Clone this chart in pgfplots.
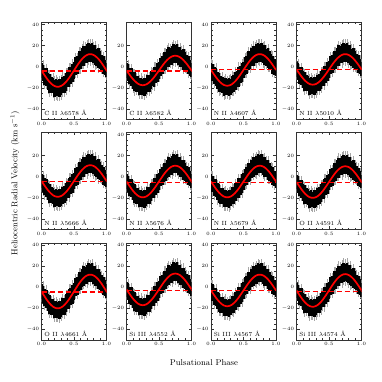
\documentclass[border=0pt]{standalone}
\usepackage{pgfplots}
\pgfplotsset{compat=1.18}
\usepackage{pgfplotstable}

\pgfplotstableread{
x U L EU EL c1 c2 c3 c4 c5 c6 c8 c9 c10 c12
0.000 7 7 10 10 -3.5 -3.5 -3.0 -2.5 -4.0 -4.5 -5.0 -4.0 -2.0 -3.0
0.025 8 8 12 12 -5.9 -5.7 -5.3 -4.8 -6.3 -6.8 -7.3 -6.5 -4.3 -5.4
0.050 7 9 10 13 -8.3 -7.8 -7.6 -7.0 -8.6 -9.1 -9.6 -8.9 -6.6 -7.8
0.075 9 8 13 11 -10.5 -9.9 -9.8 -9.1 -10.8 -11.3 -11.8 -11.3 -8.8 -10.0
0.100 7 9 10 13 -12.6 -11.7 -11.8 -11.0 -12.8 -13.3 -13.8 -13.4 -10.8 -12.1
0.125 8 10 11 14 -14.5 -13.4 -13.6 -12.8 -14.6 -15.1 -15.6 -15.3 -12.6 -14.0
0.150 6 9 9 12 -16.0 -14.8 -15.1 -14.2 -16.1 -16.6 -17.1 -16.9 -14.1 -15.5
0.175 7 8 11 12 -17.3 -16.0 -16.4 -15.4 -17.4 -17.9 -18.4 -18.3 -15.4 -16.8
0.200 6 10 9 14 -18.2 -16.8 -17.3 -16.3 -18.3 -18.8 -19.3 -19.2 -16.3 -17.7
0.225 7 9 11 13 -18.8 -17.3 -17.8 -16.8 -18.8 -19.3 -19.8 -19.8 -16.8 -18.3
0.250 6 9 9 13 -19.0 -17.5 -18.0 -17.0 -19.0 -19.5 -20.0 -20.0 -17.0 -18.5
0.275 7 10 10 14 -18.8 -17.3 -17.8 -16.8 -18.8 -19.3 -19.8 -19.8 -16.8 -18.3
0.300 6 9 10 13 -18.2 -16.8 -17.3 -16.3 -18.3 -18.8 -19.3 -19.2 -16.3 -17.7
0.325 8 8 12 11 -17.3 -16.0 -16.4 -15.4 -17.4 -17.9 -18.4 -18.3 -15.4 -16.8
0.350 7 9 10 13 -16.0 -14.8 -15.1 -14.2 -16.1 -16.6 -17.1 -16.9 -14.1 -15.5
0.375 9 8 13 12 -14.5 -13.4 -13.6 -12.8 -14.6 -15.1 -15.6 -15.3 -12.6 -14.0
0.400 8 7 11 10 -12.6 -11.7 -11.8 -11.0 -12.8 -13.3 -13.8 -13.4 -10.8 -12.1
0.425 10 9 14 13 -10.5 -9.9 -9.8 -9.1 -10.8 -11.3 -11.8 -11.3 -8.8 -10.0
0.450 8 8 12 11 -8.3 -7.8 -7.6 -7.0 -8.6 -9.1 -9.6 -8.9 -6.6 -7.8
0.475 9 9 13 13 -5.9 -5.7 -5.3 -4.8 -6.3 -6.8 -7.3 -6.5 -4.3 -5.4
0.500 8 8 12 11 -3.5 -3.5 -3.0 -2.5 -4.0 -4.5 -5.0 -4.0 -2.0 -3.0
0.525 10 7 14 10 -1.1 -1.3 -0.7 -0.2 -1.7 -2.2 -2.7 -1.5 0.3 -0.6
0.550 9 8 12 12 1.3 0.8 1.6 2.0 0.6 0.1 -0.4 0.9 2.6 1.8
0.575 11 7 15 10 3.5 2.9 3.8 4.1 2.8 2.3 1.8 3.3 4.8 4.0
0.600 9 8 13 12 5.6 4.7 5.8 6.0 4.8 4.3 3.8 5.4 6.8 6.1
0.625 10 7 14 10 7.5 6.4 7.6 7.8 6.6 6.1 5.6 7.3 8.6 8.0
0.650 11 8 15 11 9.0 7.8 9.1 9.2 8.1 7.6 7.1 8.9 10.1 9.5
0.675 9 7 13 10 10.3 9.0 10.4 10.4 9.4 8.9 8.4 10.3 11.4 10.8
0.700 10 8 14 12 11.2 9.8 11.3 11.3 10.3 9.8 9.3 11.2 12.3 11.7
0.725 11 7 15 10 11.8 10.3 11.8 11.8 10.8 10.3 9.8 11.8 12.8 12.3
0.750 10 7 14 11 12.0 10.5 12.0 12.0 11.0 10.5 10.0 12.0 13.0 12.5
0.775 11 7 15 10 11.8 10.3 11.8 11.8 10.8 10.3 9.8 11.8 12.8 12.3
0.800 9 8 12 12 11.2 9.8 11.3 11.3 10.3 9.8 9.3 11.2 12.3 11.7
0.825 10 9 14 13 10.3 9.0 10.4 10.4 9.4 8.9 8.4 10.3 11.4 10.8
0.850 8 8 12 11 9.0 7.8 9.1 9.2 8.1 7.6 7.1 8.9 10.1 9.5
0.875 10 9 14 13 7.5 6.4 7.6 7.8 6.6 6.1 5.6 7.3 8.6 8.0
0.900 9 8 12 11 5.6 4.7 5.8 6.0 4.8 4.3 3.8 5.4 6.8 6.1
0.925 8 7 12 10 3.5 2.9 3.8 4.1 2.8 2.3 1.8 3.3 4.8 4.0
0.950 9 8 13 11 1.3 0.8 1.6 2.0 0.6 0.1 -0.4 0.9 2.6 1.8
0.975 8 7 11 10 -1.1 -1.3 -0.7 -0.2 -1.7 -2.2 -2.7 -1.5 0.3 -0.6
1.000 7 6 10 9 -3.5 -3.5 -3.0 -2.5 -4.0 -4.5 -5.0 -4.0 -2.0 -3.0
}\data

\pgfplotsset{
  panel/.style={
    scale only axis, width=65bp, height=97bp,
    xmin=0, xmax=1, ymin=-50, ymax=42,
    xtick={0,0.5,1}, minor x tick num=4, minor y tick num=3,
    tick align=inside,
    major tick length=3bp, minor tick length=1.6bp,
    tick label style={font=\fontsize{5.3}{6}\selectfont},
    xticklabel style={/pgf/number format/fixed, /pgf/number format/fixed zerofill, /pgf/number format/precision=1, yshift=1bp},
    yticklabel style={xshift=1bp},
    axis line style={line width=0.5bp, black!80},
    every tick/.style={line width=0.4bp, black!80},
  }
}

\newcommand{\panel}[6]{%
\begin{axis}[at={(#1bp,#2bp)}, anchor=south west, panel, ytick={#6}]
  \addplot[draw=none, mark=none, error bars/.cd, y dir=both, y explicit, error mark=none,
    error bar style={draw=black!35, line width=0.7bp}]
    table[x=x, y=#3, y error plus=EU, y error minus=EL] {\data};
  \addplot[draw=none, mark=none, error bars/.cd, y dir=both, y explicit, error mark=none,
    error bar style={draw=black, line width=2.6bp}]
    table[x=x, y=#3, y error plus=U, y error minus=L] {\data};
  \addplot[red, dash pattern=on 5bp off 3bp, line width=1.1bp, mark=none] coordinates {(0,#5) (1,#5)};
  \addplot[red, line width=1.7bp, smooth, mark=none] table[x=x, y=#3] {\data};
  \node[anchor=west, font=\fontsize{6}{7}\selectfont, inner sep=0pt] at (axis cs:0.04,-44) {#4};
\end{axis}}

\begin{document}
\begin{tikzpicture}
\useasboundingbox (0,0) rectangle (382bp,382bp);
\panel{41.5}{262.5}{c1}{C II $\lambda$6578 \AA}{-4}{-40,-20,0,20,40}
\panel{126.5}{262.5}{c2}{C II $\lambda$6582 \AA}{-4}{-40,-20,0,20}
\panel{211}{262.5}{c3}{N II $\lambda$4607 \AA}{-3}{-40,-20,0,20,40}
\panel{296.5}{262.5}{c4}{N II $\lambda$5010 \AA}{-3}{-40,-20,0,20,40}
\panel{41.5}{152.5}{c5}{N II $\lambda$5666 \AA}{-4.5}{-40,-20,0,20}
\panel{126.5}{152.5}{c6}{N II $\lambda$5676 \AA}{-5}{-40,-20,0,20,40}
\panel{211}{152.5}{c6}{N II $\lambda$5679 \AA}{-5}{-40,-20,0,20}
\panel{296.5}{152.5}{c8}{O II $\lambda$4591 \AA}{-5.5}{-40,-20,0,20}
\panel{41.5}{42}{c9}{O II $\lambda$4661 \AA}{-4.5}{-40,-20,0,20,40}
\panel{126.5}{42}{c10}{Si III $\lambda$4552 \AA}{-3}{-40,-20,0,20,40}
\panel{211}{42}{c3}{Si III $\lambda$4567 \AA}{-3}{-40,-20,0,20,40}
\panel{296.5}{42}{c12}{Si III $\lambda$4574 \AA}{-4}{-40,-20,0,20,40}
\node[rotate=90, font=\fontsize{8.5}{10}\selectfont] at (15bp,199bp) {Heliocentric Radial Velocity (km s$^{-1}$)};
\node[font=\fontsize{8.5}{10}\selectfont] at (204bp,19.5bp) {Pulsational Phase};
\end{tikzpicture}
\end{document}
